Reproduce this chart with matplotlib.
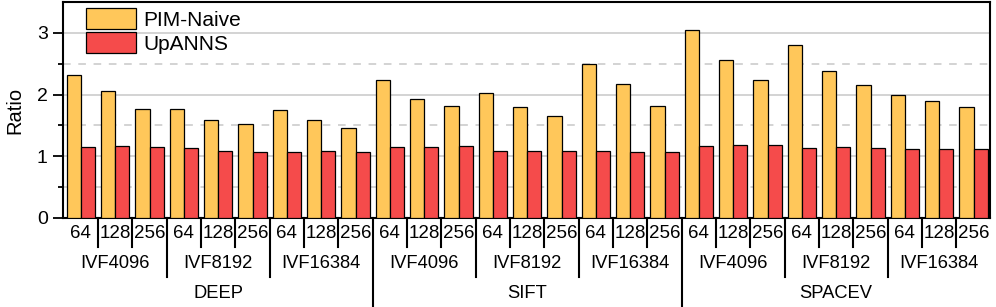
import numpy as np
import matplotlib
matplotlib.use("Agg")
import matplotlib.pyplot as plt
from matplotlib.transforms import blended_transform_factory

plt.rcParams["font.family"] = ["Liberation Sans", "DejaVu Sans"]

datasets = ["DEEP", "SIFT", "SPACEV"]
ivf_lists = ["IVF4096", "IVF8192", "IVF16384"]
nprobe = ["64", "128", "256"]

pim_naive = [
    2.31, 2.05, 1.77, 1.77, 1.59, 1.53, 1.75, 1.59, 1.46,   # DEEP
    2.23, 1.93, 1.82, 2.03, 1.80, 1.65, 2.49, 2.17, 1.81,   # SIFT
    3.04, 2.56, 2.24, 2.80, 2.38, 2.16, 1.99, 1.89, 1.80,   # SPACEV
]
upanns = [
    1.145, 1.16, 1.145, 1.13, 1.09, 1.075, 1.075, 1.085, 1.075,
    1.15, 1.155, 1.16, 1.09, 1.09, 1.085, 1.08, 1.075, 1.065,
    1.17, 1.18, 1.18, 1.13, 1.145, 1.13, 1.11, 1.11, 1.12,
]

YELLOW = "#FFC75A"
RED = "#F54B4B"

W, H = 996, 307
fig = plt.figure(figsize=(W / 100, H / 100), dpi=100)
ax = fig.add_axes([63 / W, 1 - 218 / H, (990 - 63) / W, 216 / H])

n = len(pim_naive)
x = np.arange(n)
bw = 0.41
ax.bar(x - bw / 2, pim_naive, bw, color=YELLOW, edgecolor="black", linewidth=0.9,
       label="PIM-Naive", zorder=3)
ax.bar(x + bw / 2, upanns, bw, color=RED, edgecolor="black", linewidth=0.9,
       label="UpANNS", zorder=3)

ax.set_xlim(-0.52, n - 0.52)
ax.set_ylim(0, 3.5)
ax.set_yticks([0, 1, 2, 3])
ax.set_yticks([0.5, 1.5, 2.5], minor=True)
ax.tick_params(axis="y", which="major", length=7, width=1.3, labelsize=14, pad=4)
ax.tick_params(axis="y", which="minor", length=3.5, width=1.3)
ax.grid(axis="y", which="major", color="#C8C8C8", linewidth=1.1, zorder=0)
ax.grid(axis="y", which="minor", color="#C8C8C8", linewidth=1.1, linestyle=(0, (5, 5)), zorder=0)
ax.set_axisbelow(True)

ax.set_xticks(x)
ax.set_xticklabels(nprobe * (n // 3), fontsize=13.5)
ax.tick_params(axis="x", length=0, pad=5)

for sp in ax.spines.values():
    sp.set_linewidth(1.5)

ax.set_ylabel("Ratio", fontsize=14.5, labelpad=9)

# hierarchical separators and labels below the axis
tr = blended_transform_factory(ax.transData, ax.transAxes)
ph = 216.0
for b in range(1, n):
    if b % 9 == 0:
        y1 = -92 / ph
    elif b % 3 == 0:
        y1 = -59 / ph
    else:
        y1 = -29 / ph
    ax.plot([b - 0.5, b - 0.5], [0, y1], color="black", lw=1.5, transform=tr, clip_on=False)

for g in range(9):
    ax.text(g * 3 + 1, -46 / ph, ivf_lists[g % 3], transform=tr, ha="center", va="center",
            fontsize=13.2)
for d in range(3):
    ax.text(d * 9 + 4, -76 / ph, datasets[d], transform=tr, ha="center", va="center",
            fontsize=13.2)

ax.legend(loc="upper left", bbox_to_anchor=(0.02, 0.99), frameon=False, fontsize=15,
          handlelength=2.4, handleheight=1.15, labelspacing=0.12, borderpad=0.2,
          handletextpad=0.35, borderaxespad=0)

fig.savefig("out.png", dpi=100)
